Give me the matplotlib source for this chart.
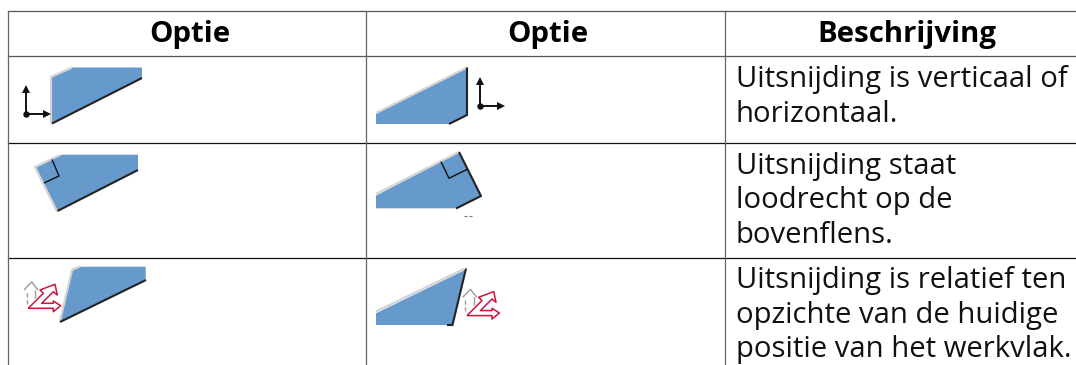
import matplotlib
matplotlib.use("Agg")
import matplotlib.pyplot as plt
from matplotlib.patches import Polygon

W, H = 1076, 365
BLUE = "#6699cc"
LIGHT = "#d4d4d4"
DARK = "#222222"
RED = "#c8173c"

headers = ["Optie", "Optie", "Beschrijving"]
header_x = [189.5, 548, 907]
descriptions = [
    ["Uitsnijding is verticaal of", "horizontaal."],
    ["Uitsnijding staat", "loodrecht op de", "bovenflens."],
    ["Uitsnijding is relatief ten", "opzichte van de huidige", "positie van het werkvlak."],
]
description_baselines = [[87, 122.5], [174, 208, 243], [288, 323, 357]]

col_lines = [7.5, 366, 725]
row_lines_grey = [11, 56]
row_lines_black = [142.5, 257.5]

bodies = [
    [(51, 77), (72, 67.5), (142, 67.5), (142, 78), (52, 123)],
    [(376, 114), (467, 68), (467, 115), (449, 124), (376, 124)],
    [(36, 167.5), (62, 154.7), (138, 154.7), (138, 170), (57.5, 211)],
    [(376, 195.7), (459, 152), (481, 195.7), (456, 208.3), (376, 208.3)],
    [(60, 321.7), (72.7, 268.3), (80, 266.7), (145.7, 266.7), (145.7, 280)],
    [(376, 313.3), (465, 270), (452.3, 325), (376, 325)],
]
light_edges = [
    [(51, 124), (51, 77), (72, 67.5)],
    [(376, 113), (467, 67.5)],
    [(57, 211.5), (35, 167), (60, 155)],
    [(376, 194), (459, 152)],
    [(60, 321), (72, 270), (80, 266.5)],
    [(376, 311.5), (464, 269)],
]
dark_edges = [
    [(52, 123.5), (142, 78)],
    [(467, 67.5), (467, 115), (449, 124)],
    [(57.5, 211), (138, 170)],
    [(459, 152), (481, 196), (456, 208.5)],
    [(60, 322), (146, 280)],
    [(466, 268.5), (452.5, 325), (447, 325)],
]
perp_marks = [
    [(52, 159.5), (59, 176), (44, 183)],
    [(441, 161.7), (449, 178.3), (467.3, 169.3)],
]
specks = [[(464, 216), (467, 216)], [(469, 216), (472, 216)]]

axes_origin = [(26, 114), (480, 105.5)]
axes_len_up = 25
axes_len_right = 21

grey_arrow_shaft = [(26.7, 304), (26.7, 290)]
grey_arrow_head = [(24, 290), (31.7, 282), (38, 290)]
grey_arrow_side = [(35, 290), (35, 298)]
red_outline = [
    (28.3, 308.3), (43.3, 293.3), (40, 290), (55, 284.3), (57.3, 295), (53.3, 291.7),
    (41.7, 303.3), (53.3, 303.3), (53.3, 301), (60.7, 305.7), (53.3, 311.7), (53.3, 308.3),
    (28.3, 308.3),
]
icon_shift = [(0, 0), (438.7, 7.3)]

plt.rcParams["font.family"] = ["Open Sans", "DejaVu Sans"]
fig = plt.figure(figsize=(W / 100, H / 100), dpi=100, facecolor="white")
ax = fig.add_axes([0, 0, 1, 1])
ax.set_xlim(0, W)
ax.set_ylim(H, 0)
ax.axis("off")


def path(points, **kw):
    ax.plot([p[0] for p in points], [p[1] for p in points], solid_capstyle="butt", **kw)


# table grid
for y in row_lines_grey:
    ax.plot([col_lines[0], W], [y, y], color="#555555", lw=0.9)
for y in row_lines_black:
    ax.plot([col_lines[0], W], [y, y], color="#111111", lw=0.9)
for x in col_lines:
    ax.plot([x, x], [row_lines_grey[0], H], color="#666666", lw=0.9)

# text
for x, t in zip(header_x, headers):
    ax.text(x, 42, t, ha="center", va="baseline", fontsize=21.2, fontweight="bold", color="black")
for lines, ys in zip(descriptions, description_baselines):
    for line, y in zip(lines, ys):
        ax.text(736, y, line, ha="left", va="baseline", fontsize=21.1, color="#111111")

# profile icons
for b in bodies:
    ax.add_patch(Polygon(b, closed=True, fc=BLUE, ec="none"))
for e in light_edges:
    path(e, color=LIGHT, lw=1.6)
for e in dark_edges:
    path(e, color=DARK, lw=1.5)
for e in perp_marks:
    path(e, color="#111111", lw=1.0)
for e in specks:
    path(e, color="#777777", lw=0.8)

# axis symbols
for ox, oy in axes_origin:
    path([(ox, oy), (ox, oy - axes_len_up)], color="#111111", lw=1.4)
    path([(ox, oy), (ox + axes_len_right, oy)], color="#111111", lw=1.4)
    ax.plot([ox], [oy], "o", ms=3.6, color="#111111")
    ax.plot([ox], [oy - axes_len_up], "^", ms=5.5, color="#111111", mew=0)
    ax.plot([ox + axes_len_right], [oy], ">", ms=5.5, color="#111111", mew=0)

# work-plane symbols
for dx, dy in icon_shift:
    shift = lambda pts: [(x + dx, y + dy) for x, y in pts]
    path(shift(grey_arrow_shaft), color="#9a9a9a", lw=1.0, linestyle=(0, (3, 2)))
    path(shift(grey_arrow_head), color="#9a9a9a", lw=1.0)
    path(shift(grey_arrow_side), color="#9a9a9a", lw=1.0)
    path(shift(red_outline), color=RED, lw=1.1)

fig.savefig("out.png", dpi=100, facecolor="white")
